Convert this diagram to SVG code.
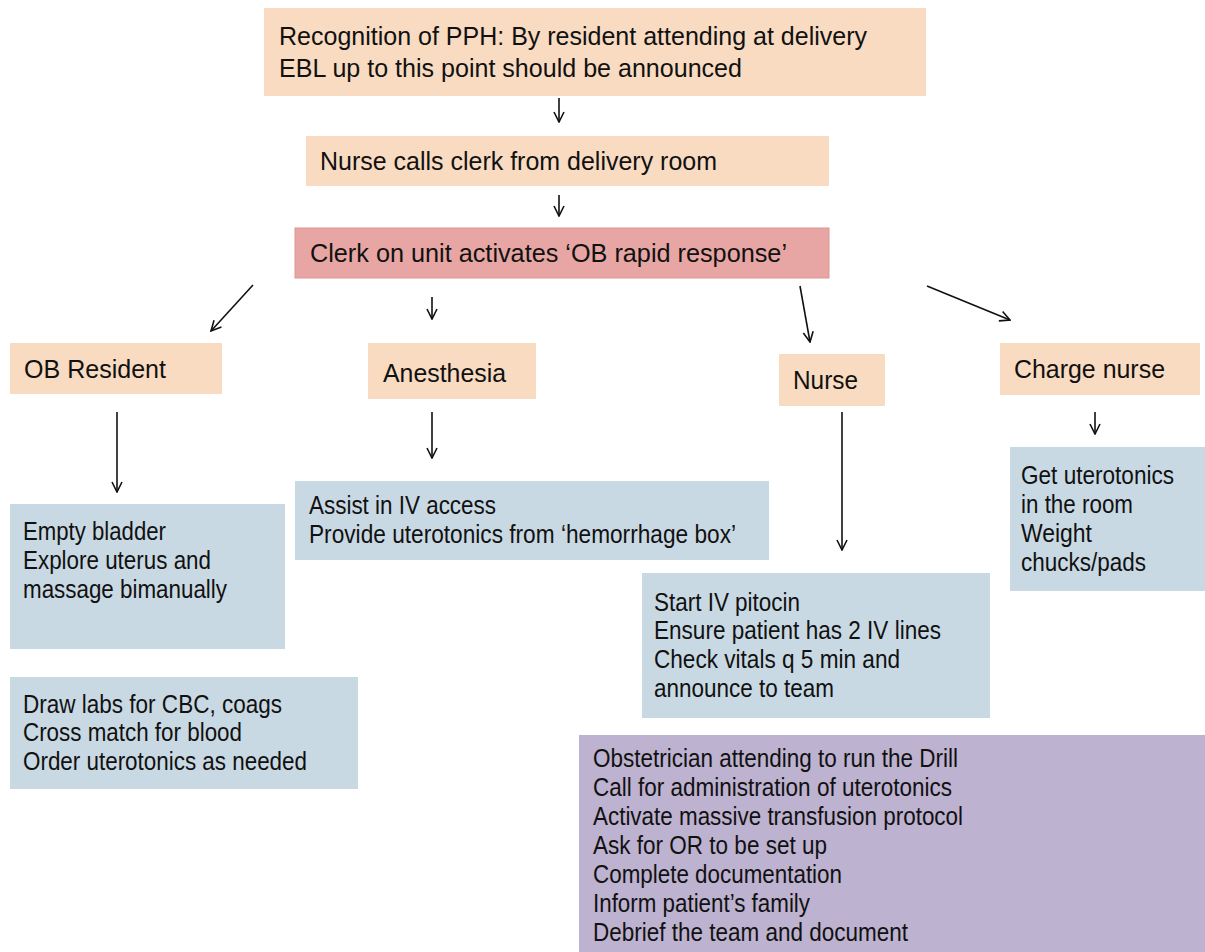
<svg xmlns="http://www.w3.org/2000/svg" width="1205" height="952" viewBox="0 0 1205 952">
<style>
.peach{fill:#f9dbc1}
.red{fill:#e7a6a3;stroke:#dd9592;stroke-width:1}
.blue{fill:#c9d9e4}
.purple{fill:#bdb2d0}
text{font-family:"Liberation Sans",Arial,sans-serif;font-size:25px;fill:#111}
.c{stroke:#111;stroke-width:1.6;fill:none}
</style>
<defs>
<marker id="ah" viewBox="0 0 12 12" refX="11" refY="6" markerWidth="12" markerHeight="12" markerUnits="userSpaceOnUse" orient="auto">
<path d="M1,1 L11,6 L1,11" fill="none" stroke="#111" stroke-width="1.6"/>
</marker>
</defs>
<rect width="1205" height="952" fill="#fff"/>
<g id="n-recognition"><rect class="peach" x="264" y="8" width="662" height="88"/>
<text x="279" y="45" textLength="588" lengthAdjust="spacingAndGlyphs">Recognition of PPH: By resident attending at delivery</text>
<text x="279" y="77" textLength="463" lengthAdjust="spacingAndGlyphs">EBL up to this point should be announced</text></g>
<g id="n-nursecalls"><rect class="peach" x="306" y="136" width="523" height="50"/>
<text x="320" y="170" textLength="397" lengthAdjust="spacingAndGlyphs">Nurse calls clerk from delivery room</text></g>
<g id="n-clerk"><rect class="red" x="295" y="228" width="534" height="50"/>
<text x="310" y="262" textLength="477" lengthAdjust="spacingAndGlyphs">Clerk on unit activates ‘OB rapid response’</text></g>
<g id="n-obres"><rect class="peach" x="10" y="343" width="212" height="51"/>
<text x="24" y="378" textLength="142" lengthAdjust="spacingAndGlyphs">OB Resident</text></g>
<g id="n-anes"><rect class="peach" x="368" y="343" width="168" height="56"/>
<text x="383" y="382" textLength="123" lengthAdjust="spacingAndGlyphs">Anesthesia</text></g>
<g id="n-nurse"><rect class="peach" x="779" y="354" width="106" height="52"/>
<text x="793" y="389" textLength="65" lengthAdjust="spacingAndGlyphs">Nurse</text></g>
<g id="n-charge"><rect class="peach" x="1000" y="343" width="200" height="52"/>
<text x="1014" y="378" textLength="151" lengthAdjust="spacingAndGlyphs">Charge nurse</text></g>
<g id="n-obtasks"><rect class="blue" x="10" y="504" width="275" height="145"/>
<text x="23" y="540" textLength="143" lengthAdjust="spacingAndGlyphs">Empty bladder</text>
<text x="23" y="569" textLength="188" lengthAdjust="spacingAndGlyphs">Explore uterus and</text>
<text x="23" y="598" textLength="204" lengthAdjust="spacingAndGlyphs">massage bimanually</text></g>
<g id="n-labs"><rect class="blue" x="10" y="677" width="348" height="112"/>
<text x="23" y="713" textLength="259" lengthAdjust="spacingAndGlyphs">Draw labs for CBC, coags</text>
<text x="23" y="741" textLength="219" lengthAdjust="spacingAndGlyphs">Cross match for blood</text>
<text x="23" y="770" textLength="284" lengthAdjust="spacingAndGlyphs">Order uterotonics as needed</text></g>
<g id="n-anestasks"><rect class="blue" x="295" y="481" width="474" height="79"/>
<text x="309" y="514" textLength="187" lengthAdjust="spacingAndGlyphs">Assist in IV access</text>
<text x="309" y="543" textLength="427" lengthAdjust="spacingAndGlyphs">Provide uterotonics from ‘hemorrhage box’</text></g>
<g id="n-nursetasks"><rect class="blue" x="642" y="573" width="348" height="145"/>
<text x="654" y="611" textLength="146" lengthAdjust="spacingAndGlyphs">Start IV pitocin</text>
<text x="654" y="639" textLength="287" lengthAdjust="spacingAndGlyphs">Ensure patient has 2 IV lines</text>
<text x="654" y="668" textLength="246" lengthAdjust="spacingAndGlyphs">Check vitals q 5 min and</text>
<text x="654" y="697" textLength="180" lengthAdjust="spacingAndGlyphs">announce to team</text></g>
<g id="n-chargetasks"><rect class="blue" x="1010" y="447" width="195" height="144"/>
<text x="1021" y="484" textLength="153" lengthAdjust="spacingAndGlyphs">Get uterotonics</text>
<text x="1021" y="513" textLength="112" lengthAdjust="spacingAndGlyphs">in the room</text>
<text x="1021" y="542" textLength="71" lengthAdjust="spacingAndGlyphs">Weight</text>
<text x="1021" y="571" textLength="125" lengthAdjust="spacingAndGlyphs">chucks/pads</text></g>
<g id="n-attending"><rect class="purple" x="579" y="735" width="626" height="217"/>
<text x="593" y="767" textLength="365" lengthAdjust="spacingAndGlyphs">Obstetrician attending to run the Drill</text>
<text x="593" y="796" textLength="359" lengthAdjust="spacingAndGlyphs">Call for administration of uterotonics</text>
<text x="593" y="825" textLength="370" lengthAdjust="spacingAndGlyphs">Activate massive transfusion protocol</text>
<text x="593" y="854" textLength="234" lengthAdjust="spacingAndGlyphs">Ask for OR to be set up</text>
<text x="593" y="883" textLength="249" lengthAdjust="spacingAndGlyphs">Complete documentation</text>
<text x="593" y="912" textLength="217" lengthAdjust="spacingAndGlyphs">Inform patient’s family</text>
<text x="593" y="941" textLength="315" lengthAdjust="spacingAndGlyphs">Debrief the team and document</text></g>
<g id="connectors">
<line class="c" x1="559" y1="98" x2="559" y2="122" marker-end="url(#ah)"/>
<line class="c" x1="559" y1="195" x2="559" y2="216" marker-end="url(#ah)"/>
<line class="c" x1="253" y1="285" x2="211" y2="331" marker-end="url(#ah)"/>
<line class="c" x1="432" y1="297" x2="432" y2="319" marker-end="url(#ah)"/>
<line class="c" x1="800" y1="286" x2="810" y2="342" marker-end="url(#ah)"/>
<line class="c" x1="927" y1="286" x2="1010" y2="320" marker-end="url(#ah)"/>
<line class="c" x1="117" y1="412" x2="117" y2="492" marker-end="url(#ah)"/>
<line class="c" x1="432" y1="412" x2="432" y2="458" marker-end="url(#ah)"/>
<line class="c" x1="842" y1="412" x2="842" y2="550" marker-end="url(#ah)"/>
<line class="c" x1="1095" y1="412" x2="1095" y2="434" marker-end="url(#ah)"/>
</g>
</svg>
